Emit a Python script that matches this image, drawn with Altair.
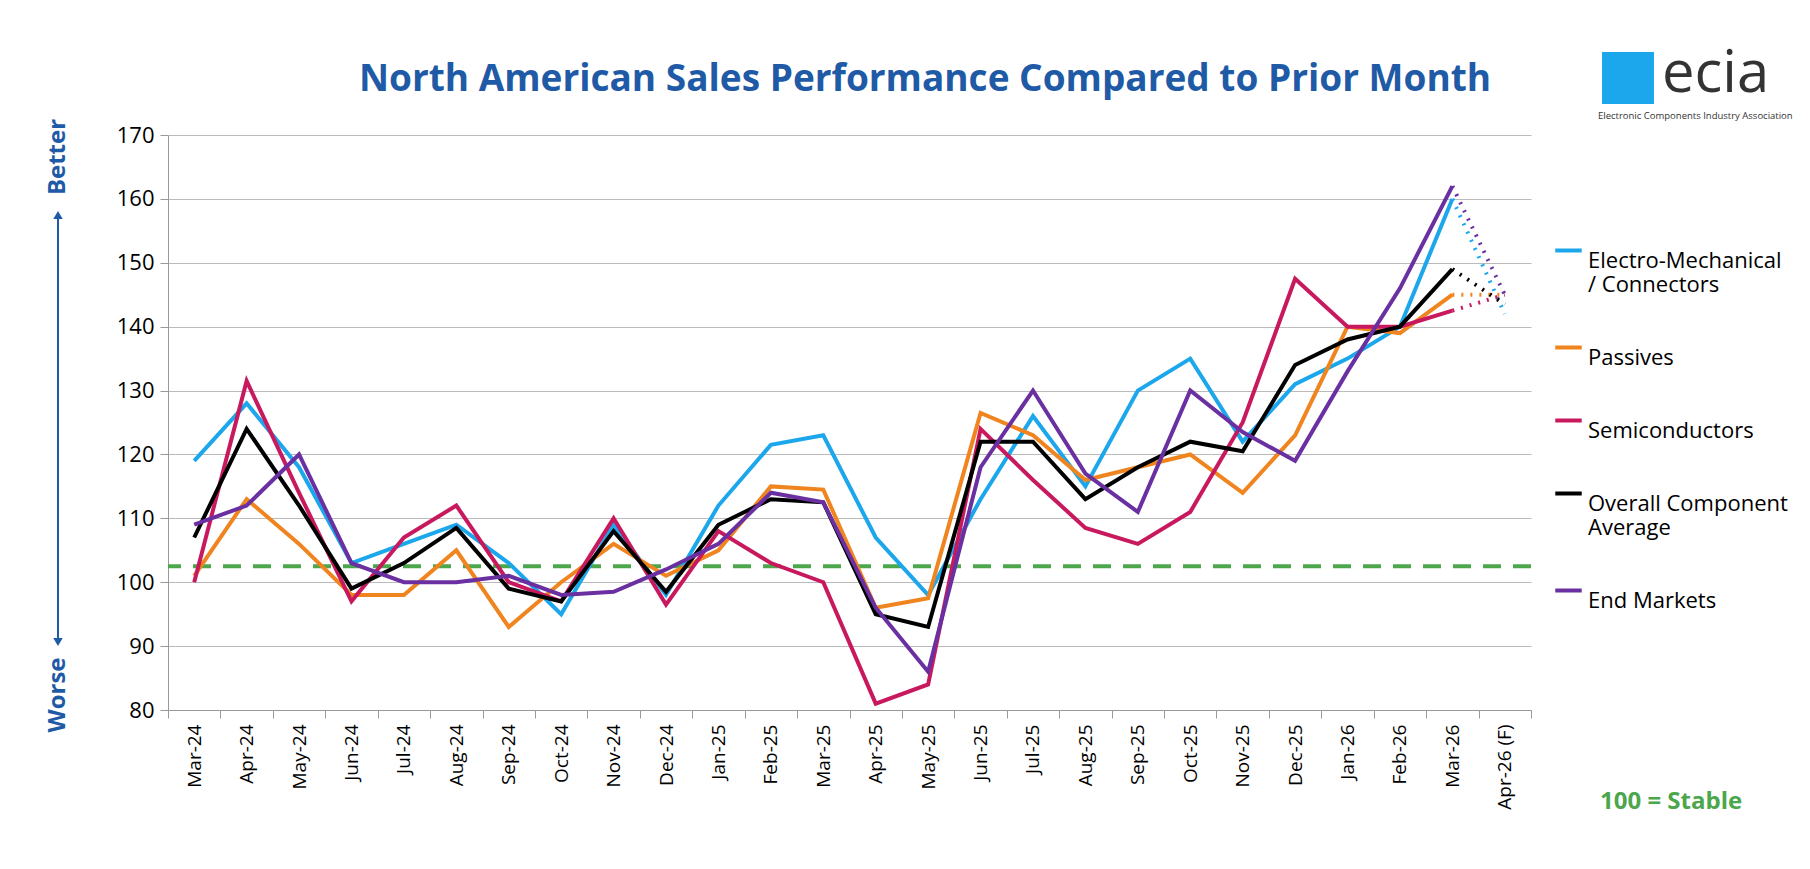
import altair as alt
import pandas as pd

months = ["Mar-24", "Apr-24", "May-24", "Jun-24", "Jul-24", "Aug-24", "Sep-24", "Oct-24",
          "Nov-24", "Dec-24", "Jan-25", "Feb-25", "Mar-25", "Apr-25", "May-25", "Jun-25",
          "Jul-25", "Aug-25", "Sep-25", "Oct-25", "Nov-25", "Dec-25", "Jan-26", "Feb-26",
          "Mar-26", "Apr-26 (F)"]

electro = [119, 128, 118, 103, 106, 109, 103, 95, 109, 98, 112, 121.5, 123, 107, 98, 113,
           126, 115, 130, 135, 122, 131, 135, 140, 160, 142]
passives = [101, 113, 106, 98, 98, 105, 93, 100, 106, 101, 105, 115, 114.5, 96, 97.5, 126.5,
            123, 116, 118, 120, 114, 123, 140, 139, 145, 145]
semis = [100, 131.5, 114, 97, 107, 112, 100, 97, 110, 96.5, 108, 103, 100, 81, 84, 124,
         116, 108.5, 106, 111, 125, 147.5, 140, 140, 142.5, 145]
overall = [107, 124, 112, 99, 103, 108.5, 99, 97, 108, 98.5, 109, 113, 112.5, 95, 93, 122,
           122, 113, 118, 122, 120.5, 134, 138, 140, 149, 143.5]
end_markets = [109, 112, 120, 103, 100, 100, 101, 98, 98.5, 102, 106, 114, 112.5, 96, 86, 118,
               130, 117, 111, 130, 123.5, 119, 133, 146, 162, 145]

series_names = ["Electro-Mechanical|/ Connectors", "Passives", "Semiconductors",
                "Overall Component|Average", "End Markets"]
series_values = [electro, passives, semis, overall, end_markets]
series_colors = ["#1CA7EC", "#F0841F", "#C8195F", "#000000", "#6A2FA0"]
series_widths = [4, 4, 4, 5.5, 4]
stable_line = 102.5

rows = []
for name, vals in zip(series_names, series_values):
    for i, (m, v) in enumerate(zip(months, vals)):
        rows.append({"month": m, "value": v, "series": name, "idx": i})
df = pd.DataFrame(rows)
solid = df[df.idx <= 24]
dotted = df[df.idx >= 24]

FONT = "Open Sans"
W, H = 1363, 575
yscale = alt.Scale(domain=[80, 170], nice=False, zero=False)

x = alt.X("month:N", sort=months, title=None,
          scale=alt.Scale(paddingOuter=0, paddingInner=0),
          axis=alt.Axis(labelAngle=-90, labelFontSize=19, labelColor="#000", labelFont=FONT,
                        domainColor="#999", tickColor="#999", tickSize=8, tickBand="extent",
                        labelPadding=6, grid=False))
y = alt.Y("value:Q", title=None, scale=yscale,
          axis=alt.Axis(values=list(range(80, 171, 10)), labelFontSize=22, labelColor="#000",
                        labelFont=FONT, gridColor="#bbb", domainColor="#999", tickColor="#999",
                        tickSize=8, labelPadding=6))
cscale = alt.Scale(domain=series_names, range=series_colors)
wscale = alt.Scale(domain=series_names, range=series_widths)
color = alt.Color("series:N", sort=series_names, scale=cscale,
                  legend=alt.Legend(title=None, orient="none", legendX=1385, legendY=100,
                                    symbolType="stroke", symbolStrokeWidth=5, symbolSize=700,
                                    labelFontSize=22, labelFont=FONT, labelColor="#000",
                                    labelExpr="split(datum.label, '|')", rowPadding=36,
                                    labelLimit=300, labelBaseline="top", labelOffset=4))

lines = alt.Chart(solid).mark_line().encode(
    x=x, y=y, color=color,
    strokeWidth=alt.StrokeWidth("series:N", scale=wscale, legend=None))
dots = alt.Chart(dotted).mark_line(strokeDash=[2, 7]).encode(
    x=x, y=y, color=alt.Color("series:N", scale=cscale, legend=None),
    strokeWidth=alt.StrokeWidth("series:N", scale=wscale, legend=None))

stable = alt.Chart(pd.DataFrame({"v": [stable_line]})).mark_rule(
    color="#4CA64C", strokeWidth=4, strokeDash=[18, 12]).encode(y=alt.Y("v:Q", scale=yscale))

deco = pd.DataFrame({"t": [0]})
blue = "#1F5AA6"
arrow = alt.Chart(deco).mark_rule(color=blue, strokeWidth=2).encode(
    x=alt.value(-110), y=alt.value(82), y2=alt.value(505))
arrow_up = alt.Chart(deco).mark_point(shape="triangle-up", filled=True, color=blue,
                                      size=90, opacity=1).encode(x=alt.value(-110), y=alt.value(80))
arrow_dn = alt.Chart(deco).mark_point(shape="triangle-down", filled=True, color=blue,
                                      size=90, opacity=1).encode(x=alt.value(-110), y=alt.value(507))
better = alt.Chart(deco).mark_text(text="Better", angle=270, fontSize=24, fontWeight="bold",
                                   font=FONT, color=blue).encode(x=alt.value(-110), y=alt.value(22))
worse = alt.Chart(deco).mark_text(text="Worse", angle=270, fontSize=24, fontWeight="bold",
                                  font=FONT, color=blue).encode(x=alt.value(-110), y=alt.value(560))
title = alt.Chart(deco).mark_text(text="North American Sales Performance Compared to Prior Month",
                                  fontSize=37, fontWeight="bold", font=FONT, color=blue).encode(
    x=alt.value(757), y=alt.value(-55))
stable_txt = alt.Chart(deco).mark_text(text="100 = Stable", fontSize=24, fontWeight="bold",
                                       font=FONT, color="#4CA64C", align="left").encode(
    x=alt.value(1432), y=alt.value(667))
logo_box = alt.Chart(deco).mark_square(size=2700, color="#1CA7EC", opacity=1).encode(
    x=alt.value(1460), y=alt.value(-57))
logo_txt = alt.Chart(deco).mark_text(text="ecia", fontSize=58, font=FONT, color="#333",
                                     align="left").encode(x=alt.value(1494), y=alt.value(-60))
logo_sub = alt.Chart(deco).mark_text(text="Electronic Components Industry Association",
                                     fontSize=9.5, font=FONT, color="#333",
                                     align="left").encode(x=alt.value(1430), y=alt.value(-19))

chart = alt.layer(stable, lines, dots, arrow, arrow_up, arrow_dn, better, worse, title,
                  stable_txt, logo_box, logo_txt, logo_sub).properties(
    width=W, height=H,
    autosize=alt.AutoSizeParams(type="none"),
    padding={"left": 160, "top": 127, "right": 265, "bottom": 145},
).configure_view(stroke=None)

chart.save("out.html", embed_options={"renderer": "svg", "actions": False})
